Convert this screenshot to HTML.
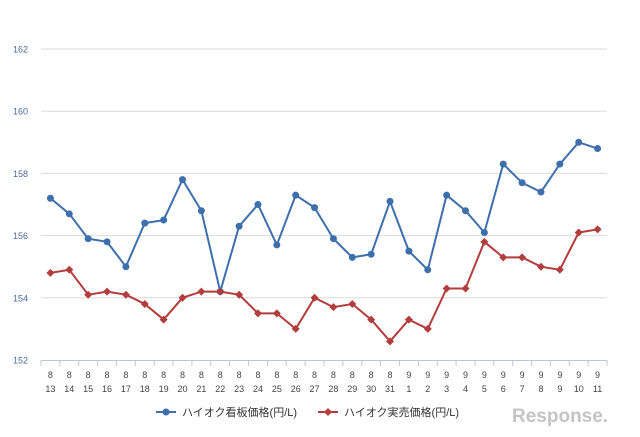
<!DOCTYPE html>
<html><head><meta charset="utf-8"><style>
body{margin:0;background:#fff;}
svg{display:block;font-family:"Liberation Sans","Noto Sans CJK JP",sans-serif;}
</style></head><body>
<svg id="chart" width="640" height="437" viewBox="0 0 640 437"></svg>
<script>
const months=["8","8","8","8","8","8","8","8","8","8","8","8","8","8","8","8","8","8","8","9","9","9","9","9","9","9","9","9","9","9"];
const days=["13","14","15","16","17","18","19","20","21","22","23","24","25","26","27","28","29","30","31","1","2","3","4","5","6","7","8","9","10","11"];
const signPrice=[157.2,156.7,155.9,155.8,155.0,156.4,156.5,157.8,156.8,154.2,156.3,157.0,155.7,157.3,156.9,155.9,155.3,155.4,157.1,155.5,154.9,157.3,156.8,156.1,158.3,157.7,157.4,158.3,159.0,158.8];
const actualPrice=[154.8,154.9,154.1,154.2,154.1,153.8,153.3,154.0,154.2,154.2,154.1,153.5,153.5,153.0,154.0,153.7,153.8,153.3,152.6,153.3,153.0,154.3,154.3,155.8,155.3,155.3,155.0,154.9,156.1,156.2];
const yTicks=[152,154,156,158,160,162];

const svg=document.getElementById('chart');
const NS='http://www.w3.org/2000/svg';
const L=41,R=607,T=49,B=360,yMin=152,yMax=162;
const band=(R-L)/days.length;
const x=i=>L+band*(i+0.5);
const y=v=>B-(v-yMin)/(yMax-yMin)*(B-T);
function mk(tag,attrs,parent){const e=document.createElementNS(NS,tag);for(const k in attrs)e.setAttribute(k,attrs[k]);(parent||svg).appendChild(e);return e;}

yTicks.forEach(t=>{
  if(t!==yMin){const g=mk('line',{x1:L,x2:R,y1:y(t),y2:y(t),stroke:'#dcdcdc','stroke-width':1});
  
  }
  const tx=mk('text',{x:28,y:y(t)+3.5,'text-anchor':'end','font-size':9,fill:'#4a6a9a'});
  tx.textContent=t;
  
  
});
const ax=mk('line',{x1:L,x2:R,y1:B+0.5,y2:B+0.5,stroke:'#b8c8dc','stroke-width':1});


for(let i=0;i<=days.length;i++){
  const tk=mk('line',{x1:L+band*i,x2:L+band*i,y1:B,y2:B+6,stroke:'#b8c8dc','stroke-width':1});
  
  
}
days.forEach((d,i)=>{
  const m=mk('text',{x:x(i),y:378,'text-anchor':'middle','font-size':9,fill:'#444'});
  m.textContent=months[i];
  
  
  const t=mk('text',{x:x(i),y:392,'text-anchor':'middle','font-size':9,fill:'#444'});
  t.textContent=d;
  
  
});
function series(vals,color,name,diamond){
  const p=mk('polyline',{points:vals.map((v,i)=>x(i)+','+y(v)).join(' '),fill:'none',stroke:color,'stroke-width':2});
  
  
  vals.forEach((v,i)=>{
    let e;
    if(diamond){const cx=x(i),cy=y(v);e=mk('polygon',{points:`${cx},${cy-4} ${cx+4},${cy} ${cx},${cy+4} ${cx-4},${cy}`,fill:color});}
    else e=mk('circle',{cx:x(i),cy:y(v),r:3.5,fill:color});
    
    
  });
}
series(signPrice,'#3e6fad','sign-price',false);
series(actualPrice,'#b33c3c','actual-price',true);

// legend
const l1=mk('line',{x1:156,x2:176,y1:412,y2:412,stroke:'#3e6fad','stroke-width':2});


const c1=mk('circle',{cx:166,cy:412,r:3.5,fill:'#3e6fad'});


const t1=mk('text',{x:182,y:416,'font-size':11,fill:'#333'});t1.textContent='ハイオク看板価格(円/L)';


const l2=mk('line',{x1:318,x2:338,y1:412,y2:412,stroke:'#b33c3c','stroke-width':2});


const d2=mk('polygon',{points:'328,408 332,412 328,416 324,412',fill:'#b33c3c'});


const t2=mk('text',{x:344,y:416,'font-size':11,fill:'#333'});t2.textContent='ハイオク実売価格(円/L)';


const wm=mk('text',{x:512,y:422,'font-size':19,fill:'#c4c4c4','font-weight':'bold'});wm.textContent='Response.';


</script>
</body></html>
